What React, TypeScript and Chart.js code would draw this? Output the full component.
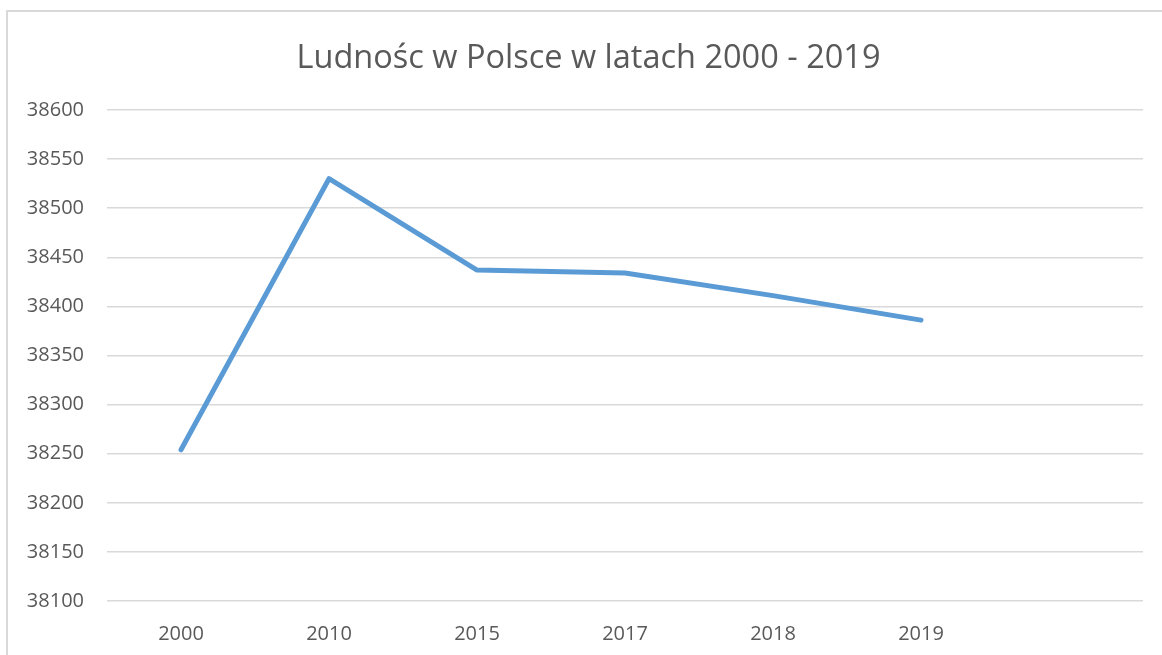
import React, { useEffect, useRef } from "react";
import { Chart, registerables } from "chart.js";

Chart.register(...registerables);

const TITLE = "Ludnośc w Polsce w latach 2000 - 2019";
const CATEGORIES = ["2000", "2010", "2015", "2017", "2018", "2019", ""];
const POPULATION = [38254, 38530, 38437, 38434, 38411, 38386];
const Y_MIN = 38100;
const Y_MAX = 38600;
const Y_STEP = 50;

const FONT = "'Open Sans', 'DejaVu Sans', sans-serif";
const TEXT = "#595959";
const GRID = "#d9d9d9";

const shiftTitle = {
  id: "shiftTitle",
  afterLayout(chart: any) {
    const t = chart.titleBlock;
    if (t) {
      t.left += 17;
      t.right += 17;
    }
  },
};

export default function App() {
  const ref = useRef<HTMLCanvasElement>(null);

  useEffect(() => {
    if (!ref.current) return;
    const chart = new Chart(ref.current, {
      type: "line",
      data: {
        labels: CATEGORIES,
        datasets: [
          {
            data: POPULATION,
            borderColor: "#5b9bd5",
            backgroundColor: "#5b9bd5",
            borderWidth: 5,
            borderCapStyle: "round",
            borderJoinStyle: "round",
            pointRadius: 0,
            tension: 0,
            fill: false,
          },
        ],
      },
      plugins: [shiftTitle],
      options: {
        animation: false,
        responsive: false,
        maintainAspectRatio: false,
        layout: { padding: { left: 0, right: 19, top: 0, bottom: 0 } },
        plugins: {
          legend: { display: false },
          tooltip: { enabled: false },
          title: {
            display: true,
            text: TITLE,
            color: TEXT,
            font: { family: FONT, size: 32.5, weight: "normal", lineHeight: 1.2 },
            padding: { top: 39, bottom: 32 },
          },
        },
        scales: {
          x: {
            offset: true,
            grid: { display: false, drawTicks: false },
            border: { display: false },
            ticks: {
              color: TEXT,
              font: { family: FONT, size: 20 },
              padding: 21,
              maxRotation: 0,
              autoSkip: false,
            },
            afterFit: (s: any) => {
              s.height = 54;
            },
          },
          y: {
            min: Y_MIN,
            max: Y_MAX,
            grid: { color: GRID, lineWidth: 1.5, drawTicks: false },
            border: { display: false },
            ticks: {
              stepSize: Y_STEP,
              color: TEXT,
              font: { family: FONT, size: 20 },
              padding: 23,
              callback: (v: any) => String(v),
            },
            afterFit: (s: any) => {
              s.width = 107;
            },
          },
        },
      },
    });
    return () => chart.destroy();
  }, []);

  return (
    <div
      style={{
        position: "fixed",
        left: 0,
        top: 0,
        width: 1162,
        height: 655,
        overflow: "hidden",
        background: "#fff",
      }}
    >
      <div
        style={{
          position: "absolute",
          left: 6,
          top: 10,
          width: 2000,
          height: 2000,
          border: "2px solid #d9d9d9",
        }}
      />
      <canvas
        ref={ref}
        width={1162}
        height={655}
        style={{ position: "absolute", left: 0, top: 0, width: 1162, height: 655 }}
      />
    </div>
  );
}
